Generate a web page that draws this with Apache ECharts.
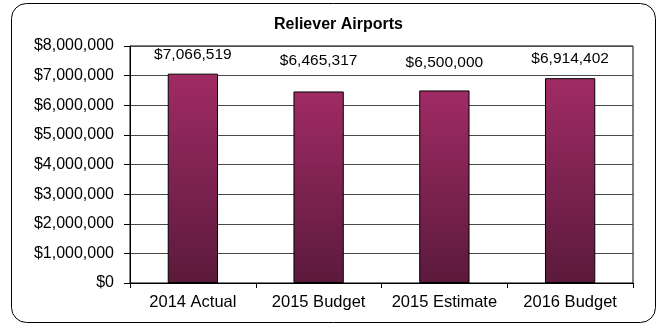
<!DOCTYPE html>
<html>
<head>
<meta charset="utf-8">
<script src="https://cdn.jsdelivr.net/npm/echarts@6/dist/echarts.min.js"></script>
<style>
  html, body { margin: 0; padding: 0; background: #fff; }
  #chart { width: 658px; height: 325px; }
</style>
</head>
<body>
<div id="chart"></div>
<script>
// Reliever Airports revenue by period
const categories = ['2014 Actual', '2015 Budget', '2015 Estimate', '2016 Budget'];
const amounts = [7066519, 6465317, 6500000, 6914402];
const yTicks = [0, 1000000, 2000000, 3000000, 4000000, 5000000, 6000000, 7000000, 8000000];

// gap between each bar top and its value label (px)
const labelGap = [11, 23, 20, 11];

const FONT = '"Liberation Sans", Arial, sans-serif';
const money = v => '$' + Math.round(v).toLocaleString('en-US');

const chart = echarts.init(document.getElementById('chart'), null, { renderer: 'canvas' });

chart.setOption({
  animation: false,
  backgroundColor: '#fff',
  graphic: [{
    type: 'rect',
    shape: { x: 11.5, y: 3.5, width: 644, height: 319, r: 15 },
    style: { fill: 'none', stroke: '#000', lineWidth: 1 },
    z: 100
  }],
  title: {
    text: 'Reliever Airports',
    left: 269,
    top: 12,
    textStyle: { fontFamily: FONT, fontSize: 16, fontWeight: 'bold', color: '#000' }
  },
  grid: {
    left: 130, right: 25, top: 46, bottom: 42,
    show: true, borderColor: '#000', borderWidth: 1, backgroundColor: '#fff'
  },
  xAxis: {
    type: 'category',
    data: categories,
    axisLine: { lineStyle: { color: '#000', width: 1 } },
    axisTick: { show: true, length: 5, lineStyle: { color: '#000' } },
    axisLabel: { interval: 0, fontFamily: FONT, fontSize: 16.5, color: '#000', margin: 11 }
  },
  yAxis: {
    type: 'value',
    min: yTicks[0],
    max: yTicks[yTicks.length - 1],
    interval: yTicks[1] - yTicks[0],
    axisLine: { show: true, lineStyle: { color: '#000', width: 1 } },
    axisTick: { show: true, length: 6, lineStyle: { color: '#000' } },
    axisLabel: { fontFamily: FONT, fontSize: 16, color: '#000', margin: 16, formatter: money },
    splitLine: { show: true, lineStyle: { color: '#4a4a4a', width: 1 } }
  },
  series: [{
    type: 'bar',
    barWidth: '40%',
    data: amounts.map((v, i) => ({ value: v, label: { distance: labelGap[i] } })),
    itemStyle: {
      borderColor: '#000',
      borderWidth: 1,
      color: new echarts.graphic.LinearGradient(0, 0, 0, 1, [
        { offset: 0, color: '#a02b64' },
        { offset: 1, color: '#5b1a3c' }
      ])
    },
    label: {
      show: true,
      position: 'top',
      fontFamily: FONT,
      fontSize: 15.5,
      color: '#000',
      formatter: p => money(p.value)
    }
  }]
});
</script>
</body>
</html>
